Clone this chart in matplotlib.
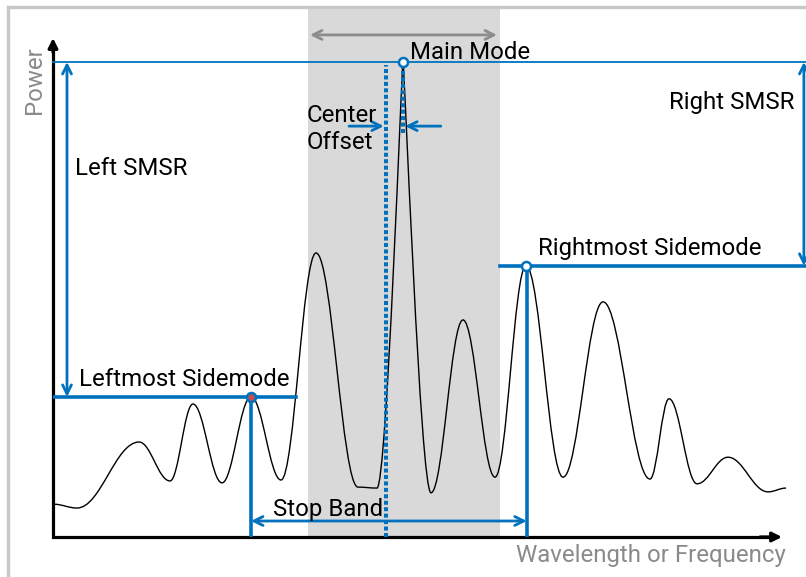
import matplotlib
matplotlib.use('Agg')
import matplotlib.pyplot as plt
from matplotlib.path import Path
from matplotlib.patches import PathPatch, Rectangle
from matplotlib.lines import Line2D

plt.rcParams['font.family'] = ['Roboto', 'DejaVu Sans']

# ---------------- data (arbitrary units: wavelength 0..100, power with main mode = 100)
spec_x = [0.1, 3.3, 11.8, 16.05, 19.2, 23.18, 27.16, 31.28, 36.08, 41.84, 44.44,
          48.01, 51.85, 56.24, 60.63, 64.88, 69.96, 75.45, 81.89, 84.5, 88.34,
          92.59, 98.08, 100.55]
spec_y = [6.9, 6.1, 20.0, 11.8, 28.0, 11.4, 29.5, 12.0, 59.8, 10.5, 10.3,
          100.0, 9.3, 45.7, 12.6, 57.1, 12.6, 49.5, 12.2, 29.1, 11.2,
          16.8, 9.5, 10.3]
main_idx = 11
leftmost_idx = 6
rightmost_idx = 15
window = [34.98, 61.32]          # shaded search window
window_arrow = [35.25, 60.9]
center_x = 45.68                 # stop band centre
x_max, y_max = 103.29, 111.58
x_axis_end, y_axis_end = 100.0, 105.05

BLUE = '#0072BD'
GRAY_TXT = '#8a8a8a'
FS = 17.3

fig = plt.figure(figsize=(8.06, 5.77), dpi=100)
# outer frame (left and top visible)
fig.add_artist(Line2D([8/806, 8/806], [0, 1 - 7/577], transform=fig.transFigure,
                      color='#c8c8c8', lw=2.4, solid_capstyle='projecting'))
fig.add_artist(Line2D([8/806, 1], [1 - 7/577, 1 - 7/577], transform=fig.transFigure,
                      color='#c8c8c8', lw=2.4, solid_capstyle='projecting'))

ax = fig.add_axes([53/806, 40/577, 753/806, 530/577])
ax.set_xlim(0, x_max)
ax.set_ylim(0, y_max)
ax.axis('off')

# shaded window
ax.add_patch(Rectangle((window[0], 0), window[1] - window[0], y_max,
                       facecolor='#d9d9d9', edgecolor='none', zorder=0))
ax.annotate('', xy=(window_arrow[1], 105.7), xytext=(window_arrow[0], 105.7),
            arrowprops=dict(arrowstyle='<->', color='#8c8c8c', lw=2,
                            mutation_scale=16, shrinkA=0, shrinkB=0))

# spectrum curve as smooth bezier between extrema
mx, my = spec_x[main_idx], spec_y[main_idx]
verts = [(spec_x[0], spec_y[0])]
codes = [Path.MOVETO]
def handle(i):
    return 0.05 if i == main_idx else 0.38
for i in range(len(spec_x) - 1):
    x0, y0, x1, y1 = spec_x[i], spec_y[i], spec_x[i+1], spec_y[i+1]
    dx = x1 - x0
    verts += [(x0 + handle(i) * dx, y0), (x1 - handle(i+1) * dx, y1), (x1, y1)]
    codes += [Path.CURVE4] * 3
ax.add_patch(PathPatch(Path(verts, codes), facecolor='none', edgecolor='black',
                       lw=1.0, zorder=3))

# axes arrows
ax.plot([0, 0, x_axis_end - 1.5], [y_axis_end - 2, 0, 0], color='black', lw=2.3,
        solid_joinstyle='miter', zorder=4, clip_on=False)
ax.annotate('', xy=(x_axis_end, 0), xytext=(x_axis_end - 3, 0),
            arrowprops=dict(arrowstyle='-|>', color='black', lw=2.3,
                            mutation_scale=14, shrinkA=0, shrinkB=0), zorder=4)
ax.annotate('', xy=(0, y_axis_end), xytext=(0, y_axis_end - 3),
            arrowprops=dict(arrowstyle='-|>', color='black', lw=2.3,
                            mutation_scale=14, shrinkA=0, shrinkB=0), zorder=4)

lx, ly = spec_x[leftmost_idx], spec_y[leftmost_idx]
rx, ry = spec_x[rightmost_idx], spec_y[rightmost_idx]

# main mode level line
ax.plot([0, x_max], [my, my], color=BLUE, lw=1.3, zorder=5, clip_on=False)
# leftmost sidemode
ax.plot([0, 33.33], [ly, ly], color=BLUE, lw=2.6, zorder=5)
ax.plot([lx, lx], [0, ly], color=BLUE, lw=2.6, zorder=5)
# rightmost sidemode
ax.plot([window[1], x_max], [ry, ry], color=BLUE, lw=2.6, zorder=5, clip_on=False)
ax.plot([rx + 0.1, rx + 0.1], [0, ry], color=BLUE, lw=2.6, zorder=5)

arrow_kw = dict(arrowstyle='<->', color=BLUE, lw=2, mutation_scale=16,
                shrinkA=0, shrinkB=0)
# SMSR arrows
ax.annotate('', xy=(1.92, my), xytext=(1.92, ly), arrowprops=arrow_kw, zorder=5)
ax.annotate('', xy=(103.0, my), xytext=(103.0, ry), arrowprops=arrow_kw, zorder=5,
            annotation_clip=False)
# stop band
ax.annotate('', xy=(lx, 3.37), xytext=(rx + 0.1, 3.37), arrowprops=arrow_kw, zorder=5)

# centre offset dotted lines and arrows
ax.plot([center_x, center_x], [0, 99.4], color=BLUE, lw=2.9, dashes=(1.0, 0.6),
        zorder=6)
ax.plot([mx, mx], [85.0, my], color=BLUE, lw=2.9, dashes=(1.0, 0.6), zorder=6)
one_kw = dict(arrowstyle='->', color=BLUE, lw=2, mutation_scale=16,
              shrinkA=0, shrinkB=0)
ax.annotate('', xy=(center_x - 0.3, 86.5), xytext=(40.6, 86.5), arrowprops=one_kw, zorder=6)
ax.annotate('', xy=(mx + 0.3, 86.5), xytext=(53.2, 86.5), arrowprops=one_kw, zorder=6)

# markers
ax.plot([lx], [ly], 'o', ms=6.5, mfc='#c0504d', mec=BLUE, mew=1.8, zorder=8)
ax.plot([rx], [ry], 'o', ms=6.5, mfc='white', mec=BLUE, mew=1.8, zorder=8)
ax.plot([mx], [my], 'o', ms=6.5, mfc='white', mec=BLUE, mew=1.8, zorder=8)

# labels
ax.text(48.97, 100.63, 'Main Mode', fontsize=FS, va='baseline', ha='left', zorder=9)
ax.text(34.84, 87.37, 'Center', fontsize=FS, va='baseline', ha='left', zorder=9)
ax.text(34.84, 81.68, 'Offset', fontsize=FS, va='baseline', ha='left', zorder=9)
ax.text(3.02, 76.2, 'Left SMSR', fontsize=FS, va='baseline', ha='left', zorder=9)
ax.text(101.64, 90.1, 'Right SMSR', fontsize=FS, va='baseline', ha='right', zorder=9)
ax.text(66.53, 59.37, 'Rightmost Sidemode', fontsize=FS, va='baseline', ha='left', zorder=9)
ax.text(3.57, 31.79, 'Leftmost Sidemode', fontsize=FS, va='baseline', ha='left', zorder=9)
ax.text(30.18, 4.42, 'Stop Band', fontsize=FS, va='baseline', ha='left', zorder=9)
ax.text(100.55, -5.26, 'Wavelength or Frequency', fontsize=FS, va='baseline',
        ha='right', color=GRAY_TXT, zorder=9, clip_on=False)
ax.text(-2.47, 96.2, 'Power', fontsize=FS, va='center', ha='center',
        rotation=90, color=GRAY_TXT, zorder=9, clip_on=False)

fig.savefig('out.png', dpi=100)
